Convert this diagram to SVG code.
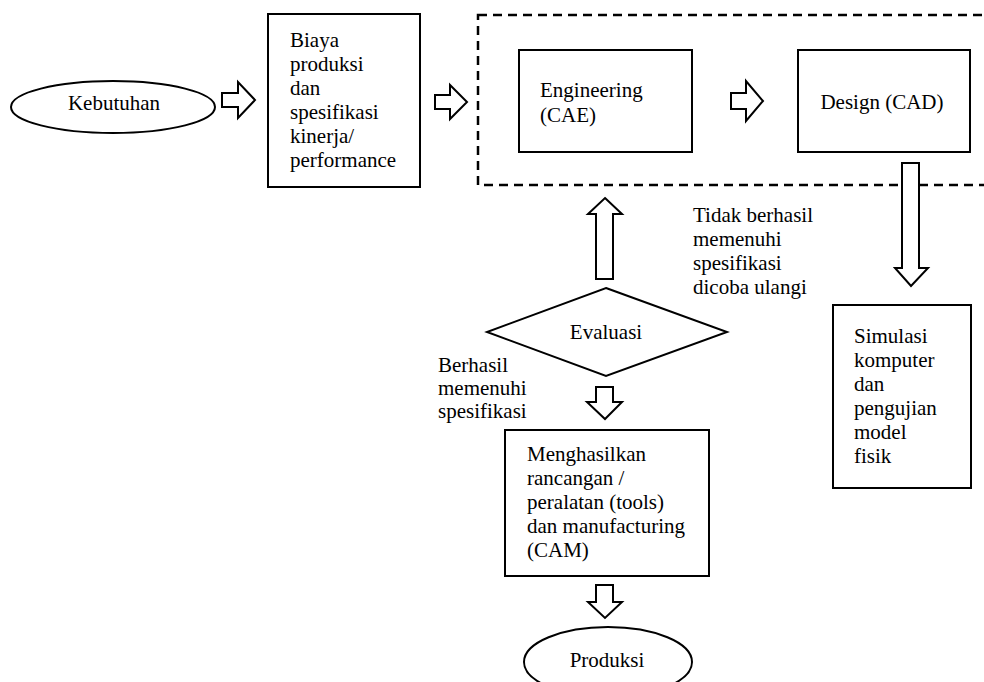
<svg xmlns="http://www.w3.org/2000/svg" width="984" height="682" viewBox="0 0 984 682" font-family="'Liberation Serif', 'Times New Roman', 'DejaVu Serif', serif" font-size="21">
<style>
.shape{fill:#fff;stroke:#000;stroke-width:2}
.dash{fill:none;stroke:#000;stroke-width:2.5;stroke-dasharray:9 6}
.arr{fill:#fff;stroke:#000;stroke-width:2;stroke-linejoin:miter}
text{font-family:'Liberation Serif','Times New Roman','DejaVu Serif',serif;font-size:21px;fill:#000}
.c{text-anchor:middle}
</style>
<rect width="984" height="682" fill="#fff"/>
<g id="group-cae-cad">
<rect class="dash" x="478" y="15" width="530" height="170"/>
</g>
<g id="kebutuhan">
<ellipse class="shape" cx="113" cy="107" rx="102" ry="26"/>
<text class="c" x="114" y="110">Kebutuhan</text>
</g>
<g id="biaya">
<rect class="shape" x="268" y="14" width="152" height="173"/>
<text x="290" y="47">Biaya</text>
<text x="290" y="71">produksi</text>
<text x="290" y="95">dan</text>
<text x="290" y="119">spesifikasi</text>
<text x="290" y="143">kinerja/</text>
<text x="290" y="167">performance</text>
</g>
<g id="engineering">
<rect class="shape" x="519" y="50" width="173" height="102"/>
<text x="540" y="97">Engineering</text>
<text x="540" y="122">(CAE)</text>
</g>
<g id="design">
<rect class="shape" x="798" y="50" width="172" height="102"/>
<text class="c" x="882" y="109">Design (CAD)</text>
</g>
<g id="simulasi">
<rect class="shape" x="833" y="305" width="138" height="183"/>
<text x="854" y="343">Simulasi</text>
<text x="854" y="367">komputer</text>
<text x="854" y="391">dan</text>
<text x="854" y="415">pengujian</text>
<text x="854" y="439">model</text>
<text x="854" y="463">fisik</text>
</g>
<g id="evaluasi">
<polygon class="shape" points="606,288 727,332 606,376 487,332"/>
<text class="c" x="606" y="339">Evaluasi</text>
</g>
<g id="menghasilkan">
<rect class="shape" x="505" y="430" width="204" height="146"/>
<text x="527" y="461">Menghasilkan</text>
<text x="527" y="485">rancangan /</text>
<text x="527" y="509">peralatan (tools)</text>
<text x="527" y="533">dan manufacturing</text>
<text x="527" y="557">(CAM)</text>
</g>
<g id="produksi">
<ellipse class="shape" cx="608" cy="662" rx="84" ry="35"/>
<text class="c" x="607" y="667">Produksi</text>
</g>
<g id="connectors">
<polygon class="arr" points="222,93 238,93 238,82 255,100 238,118 238,107 222,107"/>
<polygon class="arr" points="435,95 450,95 450,85 467,102 450,119 450,109 435,109"/>
<polygon class="arr" points="731,93 746,93 746,81 763,101 746,121 746,109 731,109"/>
<polygon class="arr" points="902,163 919,163 919,268 928,268 911,286 895,268 902,268"/>
<polygon class="arr" points="605,198 622,214 613,214 613,279 596,279 596,214 588,214"/>
<polygon class="arr" points="596,387 613,387 613,402 622,402 605,419 587,402 596,402"/>
<polygon class="arr" points="596,585 613,585 613,602 622,602 605,618 588,602 596,602"/>
</g>
<g id="labels">
<text x="693" y="222">Tidak berhasil</text>
<text x="693" y="246">memenuhi</text>
<text x="693" y="270">spesifikasi</text>
<text x="693" y="294">dicoba ulangi</text>
<text x="438" y="372">Berhasil</text>
<text x="438" y="395">memenuhi</text>
<text x="438" y="418">spesifikasi</text>
</g>
</svg>
